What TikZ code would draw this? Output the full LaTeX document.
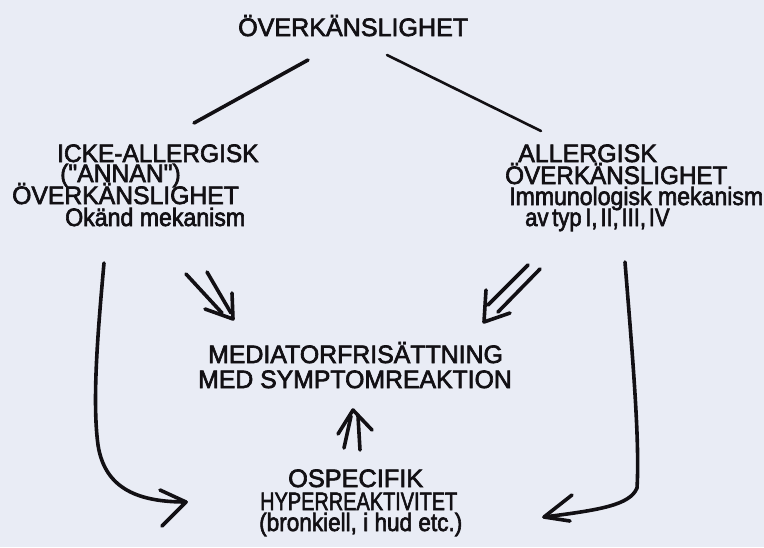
\documentclass[tikz,border=0pt]{standalone}
\usepackage{fontspec}
\setmainfont{Liberation Sans}
\newfontfamily\inkfont{Liberation Sans}[FakeBold=2.6]
\usepackage{graphicx}
\definecolor{paper}{RGB}{233,236,245}
\definecolor{ink}{RGB}{18,16,20}
\newcommand{\hsx}[2]{\scalebox{#1}[1.05]{#2}}
\begin{document}
\begin{tikzpicture}[x=1pt,y=-1pt,
  txt/.style={anchor=base west, inner sep=0pt, text=ink, font={\inkfont\fontsize{24}{24}\selectfont}},
  stroke/.style={draw=ink, line width=3.6pt, line cap=round, line join=round},
  thinstroke/.style={stroke, line width=2.6pt}]
\fill[paper] (0,0) rectangle (764,547);
\useasboundingbox (0,0) rectangle (764,547);
% texts
\node[txt] (top) at (238,36) {\hsx{1.045}{ÖVERKÄNSLIGHET}};
\node[txt] (l1) at (57,162) {\hsx{1.02}{ICKE-ALLERGISK}};
\node[txt] (l2) at (60,182) {\hsx{1.03}{("ANNAN")}};
\node[txt] (l3) at (12,204) {\hsx{1.03}{ÖVERKÄNSLIGHET}};
\node[txt] (l4) at (65,226) {\hsx{0.964}{Okänd mekanism}};
\node[txt] (r1) at (518,162) {\hsx{1.04}{ALLERGISK}};
\node[txt] (r2) at (505,184) {\hsx{1.01}{ÖVERKÄNSLIGHET}};
\node[txt] (r3) at (509,205) {\hsx{0.962}{Immunologisk mekanism}};
\node[txt] (r4) at (525,226) {\hsx{0.92}{av\hspace{4pt}typ\hspace{4pt}I,\hspace{3pt}II,\hspace{3pt}III,\hspace{3pt}IV}};
\node[txt] (m1) at (208,363) {\hsx{1.036}{MEDIATORFRISÄTTNING}};
\node[txt] (m2) at (198,388) {\hsx{1.033}{MED SYMPTOMREAKTION}};
\node[txt] (b1) at (288,487) {\hsx{1.054}{OSPECIFIK}};
\node[txt] (b2) at (260,510) {\hsx{0.83}{HYPERREAKTIVITET}};
\node[txt] (b3) at (259,531) {\hsx{0.94}{(bronkiell, i hud etc.)}};
% branch lines
\coordinate (tl1) at (308,60); \coordinate (tl2) at (194,123);
\coordinate (tr1) at (387,55); \coordinate (tr2) at (541,131);
\draw[stroke] (tl1) -- (tl2);
\draw[thinstroke] (tr1) -- (tr2);
% left double arrow
\coordinate (la1) at (186,274); \coordinate (la2) at (207,272);
\coordinate (lat) at (233,319);
\draw[stroke] (la1) -- (222,313);
\draw[stroke] (la2) -- (231,313);
\draw[stroke] (205,309) -- (lat) -- (232,293);
% right double arrow
\coordinate (ra1) at (528,265); \coordinate (ra2) at (540,269);
\coordinate (rat) at (484,322);
\draw[stroke] (ra1) -- (488,305);
\draw[stroke] (ra2) -- (498,312);
\draw[stroke] (486,290) -- (rat) -- (510,313);
% up double arrow
\coordinate (ua1) at (344,448); \coordinate (ua2) at (360,450);
\coordinate (uat) at (353,410);
\draw[stroke] (ua1) -- (351,416);
\draw[stroke] (ua2) -- (358,416);
\draw[stroke] (338,434) -- (uat) -- (372,430);
% left curved arrow
\coordinate (lc0) at (104,263); \coordinate (lct) at (186,502);
\draw[stroke] (lc0) .. controls (98,330) and (92,400) .. (98,445)
  .. controls (105,490) and (140,502) .. (lct);
\draw[stroke] (160,490) -- (lct) -- (162,526);
% right curved arrow
\coordinate (rc0) at (625,262); \coordinate (rct) at (544,517);
\draw[stroke] (rc0) .. controls (632,350) and (640,440) .. (637,488)
  .. controls (630,505) and (600,510) .. (rct);
\draw[stroke] (572,495) -- (rct) -- (570,521);
\end{tikzpicture}
\end{document}
